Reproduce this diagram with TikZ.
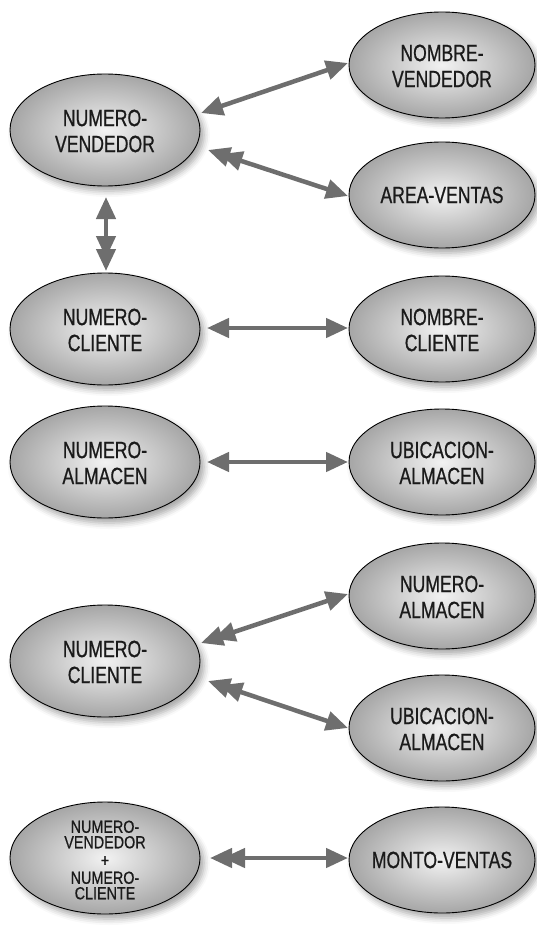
\documentclass[tikz,border=0pt]{standalone}
\usepackage{fontspec}
\setmainfont{Liberation Sans}[FakeStretch=0.75,FakeBold=0.7]
\newfontfamily\combfont{Liberation Sans}[FakeStretch=0.82,FakeBold=0.6]
\usetikzlibrary{shapes.geometric,arrows.meta,calc,shadows.blur}
\definecolor{arrgray}{HTML}{6E6E6E}
\definecolor{shinner}{HTML}{F2F2F2}
\definecolor{shouter}{HTML}{A6A6A6}
\definecolor{txt}{HTML}{1A1A1A}
\tikzset{
  ellbase/.style={ellipse, draw=black, line width=0.9pt,
    inner color=shinner, outer color=shouter,
    blur shadow={shadow xshift=4pt, shadow yshift=-5pt, shadow blur radius=6pt, shadow opacity=35}},
  ellL/.style={ellbase, minimum width=190pt, minimum height=112pt},
  ellR/.style={ellbase, minimum width=186pt, minimum height=106pt},
  lbl/.style={align=center, text=txt, inner sep=0pt, font=\fontsize{23.5}{26}\selectfont},
  lblsmall/.style={align=center, text=txt, inner sep=0pt, font=\combfont\fontsize{17.5}{15.5}\selectfont},
  head/.tip={Triangle[length=22pt,width=19pt]},
  dhead/.tip={Triangle[length=22pt,width=19pt,sep=-9pt]Triangle[length=22pt,width=19pt]},
  arr/.style={draw=arrgray, line width=4.5pt, {head}-{head}},
  arrm/.style={draw=arrgray, line width=4.5pt, {dhead}-{head}},
  arrv/.style={draw=arrgray, line width=4.5pt, {head}-{dhead}}
}
\begin{document}
\begin{tikzpicture}[x=1pt,y=-1pt]
\useasboundingbox (0,0) rectangle (537,928);
% ellipses
\node[ellL] (NV)   at (105,130) {};
\node[ellR] (NOMV) at (442,65)  {};
\node[ellR] (AV)   at (442,195) {};
\node[ellL] (NC1)  at (105,329) {};
\node[ellR] (NOMC) at (442,329) {};
\node[ellL] (NA1)  at (105,462) {};
\node[ellR] (UA1)  at (442,462) {};
\node[ellR] (NA2)  at (442,596) {};
\node[ellL] (NC2)  at (105,661) {};
\node[ellR] (UA2)  at (442,728) {};
\node[ellL] (COMB) at (105,858) {};
\node[ellR] (MV)   at (442,860) {};
% labels
\node[lbl] (tNV)   at ($(NV)+(0,1)$)   {NUMERO-\\VENDEDOR};
\node[lbl] (tNOMV) at ($(NOMV)+(0,1)$) {NOMBRE-\\VENDEDOR};
\node[lbl] (tAV)   at (AV)   {AREA-VENTAS};
\node[lbl] (tNC1)  at ($(NC1)+(0,1)$)  {NUMERO-\\CLIENTE};
\node[lbl] (tNOMC) at ($(NOMC)+(0,1)$) {NOMBRE-\\CLIENTE};
\node[lbl] (tNA1)  at ($(NA1)+(0,1)$)  {NUMERO-\\ALMACEN};
\node[lbl] (tUA1)  at ($(UA1)+(0,1)$)  {UBICACION-\\ALMACEN};
\node[lbl] (tNA2)  at ($(NA2)+(0,1)$)  {NUMERO-\\ALMACEN};
\node[lbl] (tNC2)  at ($(NC2)+(0,1)$)  {NUMERO-\\CLIENTE};
\node[lbl] (tUA2)  at ($(UA2)+(0,1)$)  {UBICACION-\\ALMACEN};
\node[lblsmall] (tCOMB) at ($(COMB)+(0,2)$) {NUMERO-\\VENDEDOR\\[2.5pt]+\\[2pt]NUMERO-\\CLIENTE};
\node[lbl] (tMV)   at (MV)   {MONTO-VENTAS};
% connectors
\draw[arr]  ($(NV)+(96,-17)$)  -- ($(NOMV)+(-94,-2)$);
\draw[arrm] ($(NV)+(103,20)$)  -- ($(AV)+(-94,1)$);
\draw[arrv] ($(NV)+(1,67)$)    -- ($(NC1)+(1,-58)$);
\draw[arr]  ($(NC1)+(102,-1)$) -- ($(NOMC)+(-94,-1)$);
\draw[arr]  ($(NA1)+(102,0)$)  -- ($(UA1)+(-94,0)$);
\draw[arrm] ($(NC2)+(96,-18)$) -- ($(NA2)+(-94,-2)$);
\draw[arrm] ($(NC2)+(103,20)$) -- ($(UA2)+(-94,0)$);
\draw[arrm] ($(COMB)+(105,0)$) -- ($(MV)+(-94,-2)$);
\end{tikzpicture}
\end{document}
